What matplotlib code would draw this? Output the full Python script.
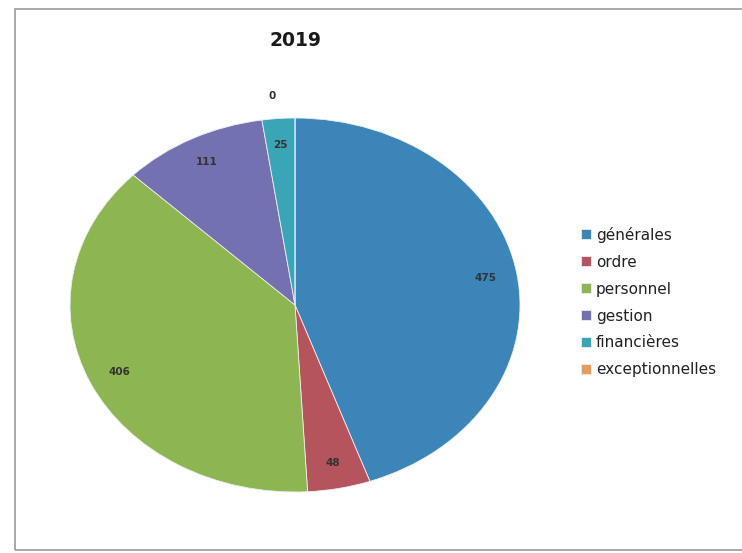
import numpy as np
import matplotlib.pyplot as plt
from matplotlib.patches import Rectangle

categories = ['générales', 'ordre', 'personnel', 'gestion', 'financières', 'exceptionnelles']
values = [475, 48, 406, 111, 25, 0]
colors = ['#3b85b8', '#b5545c', '#8db653', '#7471b0', '#3aa5b6', '#e89c5c']

fig = plt.figure(figsize=(7.42, 5.53), dpi=100)
fig.patch.set_facecolor('white')

# chart border like the scanned excel frame
fig.patches.append(Rectangle((15 / 742, 0.005), 1.0, 1 - 12 / 553, transform=fig.transFigure,
                             fill=False, edgecolor='#9a9a9a', linewidth=1.2))

fig.text(0.398, 0.927, '2019', ha='center', va='center', fontsize=13.5,
         fontweight='bold', color='#1a1a1a')

ax = fig.add_axes([70 / 742, 61 / 553, 450 / 742, 374 / 553])
wedges, _ = ax.pie(values, colors=colors, startangle=90, counterclock=False,
                   wedgeprops=dict(linewidth=0.6, edgecolor='#eeeeee'))
ax.set_aspect('auto')
ax.set_xlim(-1, 1)
ax.set_ylim(-1, 1)

# data labels (the empty slice gets its label outside, a bit to the left)
for w, v in zip(wedges, values):
    mid = np.deg2rad((w.theta1 + w.theta2) / 2)
    if v == 0:
        x, y = 1.12 * np.cos(mid) - 0.1, 1.12 * np.sin(mid)
    else:
        x, y = 0.86 * np.cos(mid), 0.86 * np.sin(mid)
    ax.text(x, y, str(v), ha='center', va='center',
            fontsize=7.5, fontweight='bold', color='#333333')

leg = fig.legend(wedges, categories, loc='upper left', bbox_to_anchor=(567 / 742, 1 - 213 / 553),
                 frameon=False, fontsize=11, handlelength=0.65, handleheight=0.65,
                 handletextpad=0.35, labelspacing=0.78)
for t in leg.get_texts():
    t.set_color('#222222')

fig.savefig('out.png', dpi=100)
